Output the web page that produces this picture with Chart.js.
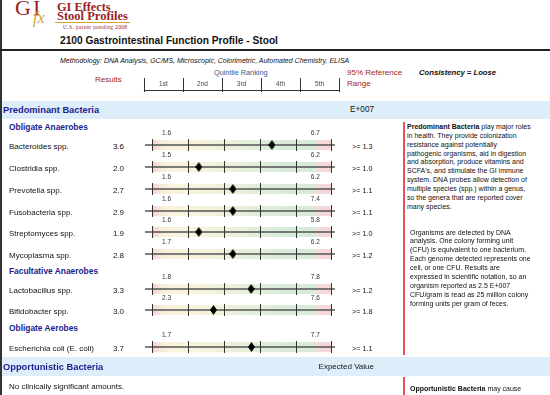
<!DOCTYPE html>
<html>
<head>
<meta charset="utf-8">
<script src="https://cdn.jsdelivr.net/npm/chart.js@4.4.1/dist/chart.umd.min.js"></script>
<style>
body { margin: 0; background: #fff; font-family: "Liberation Sans", Arial, sans-serif; color: #111; }
#page { position: relative; width: 550px; height: 395px; overflow: hidden; }
.a { position: absolute; white-space: nowrap; }
.serif { font-family: "Liberation Serif", "Times New Roman", serif; }
.red { color: #9b1f24; }
.navy { color: #1c1c8c; font-weight: bold; }
.band { position: absolute; left: 2px; right: 0; background: #ddeefa; }
#rows { position: absolute; left: 0; top: 119px; width: 400px; }
.grp { padding-left: 9px; font-size: 8.4px; font-weight: bold; color: #1c1c8c; white-space: nowrap; }
.row { position: relative; height: 21.75px; }
.row span { position: absolute; top: 0; line-height: 24px; font-size: 8px; white-space: nowrap; }
.row .nm { left: 9px; }
.row .res { left: 90px; width: 34px; text-align: right; }
.row .cut { left: 352px; font-size: 7.2px; }
.row canvas { position: absolute; left: 139px; top: -8px; }
.note { position: absolute; font-size: 7px; line-height: 8.9px; white-space: nowrap; color: #111; }
</style>
</head>
<body>
<div id="page">
  <!-- left border and header rule -->
  <div class="a" style="left:0;top:0;width:2px;height:395px;background:#333"></div>
  <div class="a" style="left:0;top:49px;width:550px;height:2px;background:#222"></div>

  <!-- logo -->
  <div class="a serif red" style="left:15px;top:-3px;font-size:22px;line-height:22px;letter-spacing:2px">GI</div>
  <div class="a serif" style="left:33px;top:9.6px;font-size:16px;line-height:16px;font-style:italic;color:#d4a22a">fx</div>
  <div class="a serif red" style="left:57px;top:0.5px;font-size:12.3px;line-height:12.3px;font-weight:bold">GI Effects</div>
  <div class="a serif red" style="left:57px;top:10.3px;font-size:12.5px;line-height:12.5px;font-weight:bold">Stool Profiles</div>
  <div class="a" style="left:55px;top:22px;width:75px;height:1px;background:#d4a22a"></div>
  <div class="a serif red" style="left:63px;top:24.3px;font-size:5.5px;line-height:6px;letter-spacing:0.35px">U.S. patent pending 2008</div>

  <div class="a" style="left:60px;top:35px;font-size:10.2px;line-height:12px;font-weight:bold">2100 Gastrointestinal Function Profile - Stool</div>
  <div class="a" style="left:60px;top:56px;font-size:7px;line-height:9px;font-style:italic">Methodology: DNA Analysis, GC/MS, Microscopic, Colorimetric, Automated Chemistry, ELISA</div>

  <!-- column headers -->
  <div class="a red" style="left:95px;top:75px;font-size:8px;line-height:10px">Results</div>
  <div class="a" style="left:214px;top:68px;font-size:7.3px;line-height:10px;color:#2e5d97">Quintile Ranking</div>
  <canvas id="quintileHeader" class="a" width="203" height="18" style="left:140px;top:76px"></canvas>
  <div class="a red" style="left:347px;top:68px;font-size:8px;line-height:10px">95% Reference</div>
  <div class="a red" style="left:347px;top:79px;font-size:8px;line-height:10px">Range</div>
  <div class="a" style="left:419px;top:68px;font-size:7.7px;line-height:10px;font-weight:bold;font-style:italic">Consistency = Loose</div>

  <!-- predominant bacteria -->
  <div class="band" style="top:101px;height:18px"></div>
  <div class="a navy" style="left:3px;top:101px;font-size:9.3px;line-height:18px">Predominant Bacteria</div>
  <div class="a" style="left:300px;width:74px;text-align:right;top:101px;font-size:8.2px;line-height:18px">E+007</div>

  <div id="rows"></div>

  <div class="a" style="left:403px;top:122px;width:2px;height:233px;background:#e8505b"></div>
  <div class="note" style="left:407px;top:122.8px"><b>Predominant Bacteria</b> play major roles<br>in health. They provide colonization<br>resistance against potentially<br>pathogenic organisms, aid in digestion<br>and absorption, produce vitamins and<br>SCFA's, and stimulate the GI immune<br>system. DNA probes allow detection of<br>multiple species (spp.) within a genus,<br>so the genera that are reported cover<br>many species.</div>
  <div class="note" style="left:410px;top:228.5px">Organisms are detected by DNA<br>analysis. One colony forming unit<br>(CFU) is equivalent to one bacterium.<br>Each genome detected represents one<br>cell, or one CFU. Results are<br>expressed in scientific notation, so an<br>organism reported as 2.5 E+007<br>CFU/gram is read as 25 million colony<br>forming units per gram of feces.</div>

  <!-- opportunistic bacteria -->
  <div class="band" style="top:357px;height:19px"></div>
  <div class="a navy" style="left:3px;top:358px;font-size:9.3px;line-height:18px">Opportunistic Bacteria</div>
  <div class="a" style="left:290px;width:84px;text-align:right;top:358px;font-size:8px;line-height:18px">Expected Value</div>
  <div class="a" style="left:9px;top:382px;font-size:8px;line-height:10px">No clinically significant amounts.</div>
  <div class="a" style="left:403px;top:377px;width:2px;height:18px;background:#e8505b"></div>
  <div class="note" style="left:410px;top:384.5px"><b>Opportunistic Bacteria</b> may cause</div>
</div>

<script>
// ---- data ----
const groups = ["Obligate Anaerobes", "Facultative Anaerobes", "Obligate Aerobes"];
const rowNames = [
    "Bacteroides spp.", "Clostridia spp.", "Prevotella spp.", "Fusobacteria spp.",
    "Streptomyces spp.", "Mycoplasma spp.", "Lactobacillus spp.", "Bifidobacter spp.",
    "Escherichia coli (E. coli)"
];
const rowGroup = [0, 0, 0, 0, 0, 0, 1, 1, 2];
const results = [3.6, 2.0, 2.7, 2.9, 1.9, 2.8, 3.3, 3.0, 3.7];
// position of the result on the quintile scale (0 = start of 1st, 5 = end of 5th)
const quintilePos = [3.34, 1.30, 2.25, 2.25, 1.30, 2.25, 2.76, 1.71, 2.77];
const refLow = [1.6, 1.5, 1.6, 1.6, 1.6, 1.7, 1.8, 2.3, 1.7];
const refHigh = [6.7, 6.2, 6.2, 7.4, 5.8, 6.2, 7.8, 7.6, 7.7];
const cutoffs = [1.3, 1.0, 1.1, 1.1, 1.0, 1.2, 1.2, 1.8, 1.1];
const quintileLabels = ["1st", "2nd", "3rd", "4th", "5th"];

// ---- layout ----
const groupHeight = [16.3, 12.9, 14.8];
const groupLine = [16.6, 10.4, 13.6];
const REF_LOW_AT = 0.4;   // where the range labels sit on the quintile scale
const REF_HIGH_AT = 4.55;
const FONT = '"Liberation Sans", Arial, sans-serif';

// tall black diamond used as point style
const diamond = document.createElement("canvas");
diamond.width = 7;
diamond.height = 10;
(function () {
    const c = diamond.getContext("2d");
    c.fillStyle = "#000";
    c.beginPath();
    c.moveTo(3.5, 0); c.lineTo(7, 5); c.lineTo(3.5, 10); c.lineTo(0, 5);
    c.closePath();
    c.fill();
})();

// background band, axis line, quintile ticks and range labels
const rangeBar = {
    id: "rangeBar",
    beforeDatasetsDraw(chart, args, opts) {
        const ctx = chart.ctx;
        const x = chart.scales.x;
        const y0 = chart.scales.y.getPixelForValue(0);
        const x0 = x.getPixelForValue(0);
        const x5 = x.getPixelForValue(5);
        ctx.save();
        const g = ctx.createLinearGradient(x0, 0, x5, 0);
        g.addColorStop(0, "#f4d2d5");
        g.addColorStop(0.05, "#f8ebdc");
        g.addColorStop(0.1, "#faf3dc");
        g.addColorStop(0.3, "#f6f3dc");
        g.addColorStop(0.55, "#e4efda");
        g.addColorStop(0.75, "#d8ebd9");
        g.addColorStop(0.9, "#d8ebd9");
        g.addColorStop(0.925, "#f6dcdc");
        g.addColorStop(1, "#f4d4d7");
        ctx.fillStyle = g;
        ctx.fillRect(x0, y0 - 5, x5 - x0, 10);

        ctx.strokeStyle = "#555";
        ctx.lineWidth = 1.3;
        ctx.beginPath();
        ctx.moveTo(chart.chartArea.left, y0);
        ctx.lineTo(chart.chartArea.right, y0);
        ctx.stroke();

        ctx.strokeStyle = "#333";
        ctx.lineWidth = 1;
        for (let i = 0; i <= 5; i++) {
            const px = Math.round(x.getPixelForValue(i)) + 0.5;
            ctx.beginPath();
            ctx.moveTo(px, y0 - 6);
            ctx.lineTo(px, y0 + 6);
            ctx.stroke();
        }

        ctx.fillStyle = "#333";
        ctx.font = "6.5px " + FONT;
        ctx.textAlign = "center";
        ctx.textBaseline = "middle";
        ctx.fillText(opts.low.toFixed(1), x.getPixelForValue(REF_LOW_AT), y0 - 11.6);
        ctx.fillText(opts.high.toFixed(1), x.getPixelForValue(REF_HIGH_AT), y0 - 11.6);
        ctx.restore();
    },
};

// header scale: 1st..5th between tick marks
const quintileHeader = {
    id: "quintileHeader",
    afterDraw(chart) {
        const ctx = chart.ctx;
        const x = chart.scales.x;
        ctx.save();
        ctx.strokeStyle = "#333";
        ctx.lineWidth = 1;
        ctx.beginPath();
        ctx.moveTo(x.getPixelForValue(0), 14.5);
        ctx.lineTo(x.getPixelForValue(5), 14.5);
        ctx.stroke();
        for (let i = 0; i <= 5; i++) {
            const px = Math.round(x.getPixelForValue(i)) + 0.5;
            ctx.beginPath();
            ctx.moveTo(px, 2);
            ctx.lineTo(px, 16);
            ctx.stroke();
        }
        ctx.fillStyle = "#444";
        ctx.font = "6.5px " + FONT;
        ctx.textAlign = "center";
        ctx.textBaseline = "middle";
        quintileLabels.forEach((lbl, i) => ctx.fillText(lbl, x.getPixelForValue(i + 0.5), 8));
        ctx.restore();
    },
};

new Chart(document.getElementById("quintileHeader"), {
    type: "scatter",
    data: { datasets: [{ data: [] }] },
    options: {
        responsive: false,
        animation: false,
        events: [],
        layout: { padding: 0 },
        plugins: { legend: { display: false }, tooltip: { enabled: false } },
        scales: {
            x: { type: "linear", min: -0.1, max: 5.1, display: false },
            y: { type: "linear", min: 0, max: 1, display: false },
        },
    },
    plugins: [quintileHeader],
});

// ---- build rows ----
const list = document.getElementById("rows");
let lastGroup = -1;
rowNames.forEach((name, i) => {
    const gi = rowGroup[i];
    if (gi !== lastGroup) {
        const h = document.createElement("div");
        h.className = "grp";
        h.style.height = groupHeight[gi] + "px";
        h.style.lineHeight = groupLine[gi] + "px";
        h.textContent = groups[gi];
        list.appendChild(h);
        lastGroup = gi;
    }

    const row = document.createElement("div");
    row.className = "row";
    row.innerHTML =
        '<span class="nm">' + name + "</span>" +
        '<span class="res">' + results[i].toFixed(1) + "</span>" +
        '<span class="cut">&gt;= ' + cutoffs[i].toFixed(1) + "</span>";
    const cv = document.createElement("canvas");
    cv.width = 202;
    cv.height = 30;
    row.appendChild(cv);
    list.appendChild(row);

    new Chart(cv, {
        type: "scatter",
        data: {
            datasets: [{
                data: [{ x: quintilePos[i], y: 0 }],
                pointStyle: diamond,
                pointRadius: 5,
            }],
        },
        options: {
            responsive: false,
            animation: false,
            events: [],
            layout: { padding: 0 },
            plugins: {
                legend: { display: false },
                tooltip: { enabled: false },
                rangeBar: { low: refLow[i], high: refHigh[i] },
            },
            scales: {
                x: { type: "linear", min: -0.2, max: 5.1, display: false },
                y: { type: "linear", min: -1, max: 2, display: false },
            },
        },
        plugins: [rangeBar],
    });
});
</script>
</body>
</html>
